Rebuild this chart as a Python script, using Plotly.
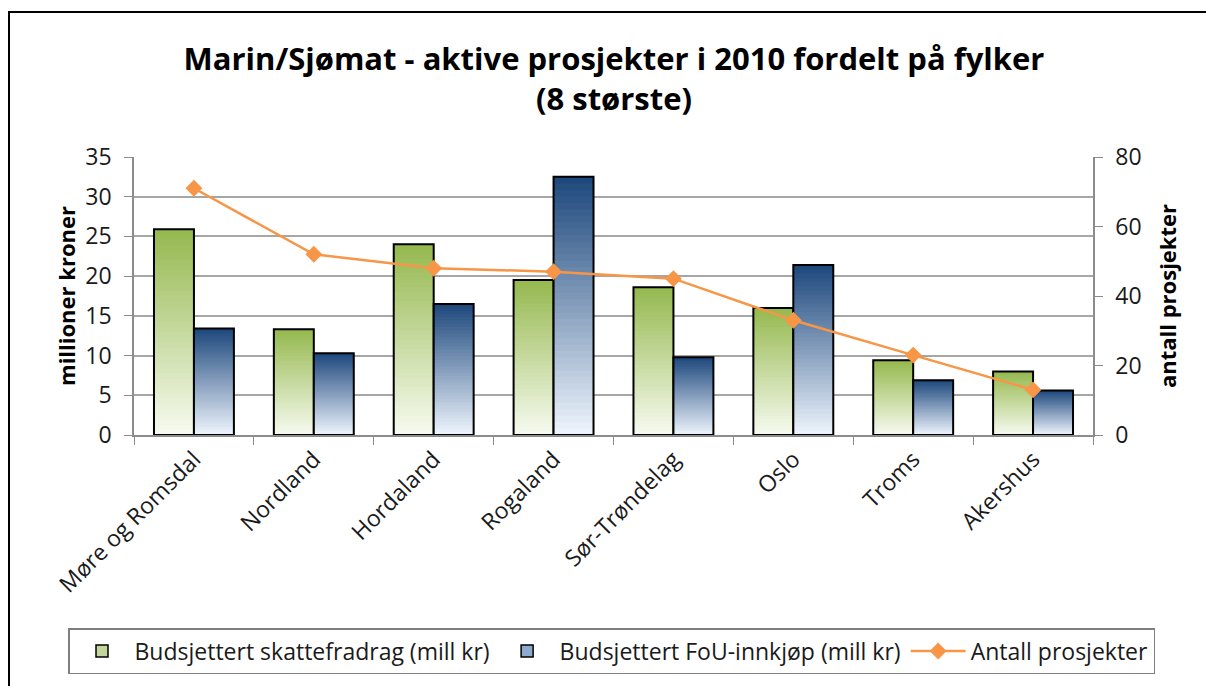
import plotly.graph_objects as go

# ---------------- data ----------------
categories = ["Møre og Romsdal", "Nordland", "Hordaland", "Rogaland",
              "Sør-Trøndelag", "Oslo", "Troms", "Akershus"]
skattefradrag = [25.9, 13.3, 24.0, 19.5, 18.6, 16.0, 9.4, 8.0]
fou_innkjop = [13.4, 10.3, 16.5, 32.5, 9.8, 21.4, 6.9, 5.6]
antall_prosjekter = [71, 52, 48, 47, 45, 33, 23, 13]
left_ticks = [0, 5, 10, 15, 20, 25, 30, 35]
right_ticks = [0, 20, 40, 60, 80]

series_names = ["Budsjettert skattefradrag (mill kr)",
                "Budsjettert FoU-innkjøp (mill kr)",
                "Antall prosjekter"]

# ---------------- style ----------------
FONT = "Open Sans"
W, H = 1206, 686
L, T = 134, 157
R = W - 1093
B = H - 435
PW, PH = W - L - R, H - T - B
N = 40  # gradient slices

green_top, green_bot = (150, 185, 80), (246, 250, 238)
blue_top, blue_bot = (31, 73, 125), (236, 243, 252)


def lerp(c0, c1, t):
    return "rgb(%d,%d,%d)" % tuple(round(a + (b - a) * t) for a, b in zip(c0, c1))


fig = go.Figure()

bar_w = 1 / 3
for vals, top, bot, off, name, legcol in [
        (skattefradrag, green_top, green_bot, -bar_w, series_names[0], "#C3D69B"),
        (fou_innkjop, blue_top, blue_bot, 0.0, series_names[1], "#8EA9CF")]:
    # gradient body: stacked slices from bottom to top
    for i in range(N):
        t = i / (N - 1)
        fig.add_trace(go.Bar(
            x=categories,
            y=[v * (N - i) / N for v in vals],
            base=[v * i / N for v in vals],
            offset=off, width=bar_w,
            marker=dict(color=lerp(bot, top, t), line=dict(width=0)),
            showlegend=False, hoverinfo="skip"))
    # outline
    fig.add_trace(go.Bar(
        x=categories, y=vals, offset=off, width=bar_w,
        marker=dict(color="rgba(0,0,0,0)", line=dict(color="black", width=2)),
        showlegend=False, name=name))
    # legend entry
    fig.add_trace(go.Bar(
        x=categories, y=[None] * len(categories), offset=off, width=bar_w,
        marker=dict(color=legcol, line=dict(color="black", width=1.5)),
        name=name, showlegend=True))

fig.add_trace(go.Scatter(
    x=categories, y=antall_prosjekter, yaxis="y2", mode="lines+markers",
    line=dict(color="#F79646", width=2.5),
    marker=dict(symbol="diamond", size=13, color="#F79646"),
    name=series_names[2]))

grid = "#a6a6a6"
axis_col = "#8c8c8c"
fig.update_layout(
    width=W, height=H,
    margin=dict(l=L, r=R, t=T, b=B, autoexpand=False),
    paper_bgcolor="white", plot_bgcolor="white",
    barmode="overlay",
    font=dict(family=FONT, color="#1a1a1a"),
    title=dict(
        text="<b>Marin/Sjømat - aktive prosjekter i 2010 fordelt på fylker<br>(8 største)</b>",
        x=614 / W, xanchor="center", xref="container",
        y=1 - 70 / H, yanchor="middle", yref="container",
        font=dict(family=FONT, size=31, color="#000")),
    xaxis=dict(
        type="category", tickangle=-45, tickfont=dict(size=23),
        showline=True, linecolor=axis_col, linewidth=1.5,
        ticks="outside", tickson="boundaries", ticklen=8, tickcolor=axis_col,
        showgrid=False, automargin=False),
    yaxis=dict(
        range=[0, 35], tickvals=left_ticks, tickfont=dict(size=23),
        showline=True, linecolor=axis_col, linewidth=1.5,
        ticks="outside", ticklen=8, tickcolor=axis_col, ticklabelstandoff=8,
        showgrid=True, gridcolor=grid, gridwidth=1.5, zeroline=False,
        automargin=False,
        title=dict(text="<b>millioner kroner</b>", font=dict(size=22, color="#000"),
                   standoff=4)),
    yaxis2=dict(
        range=[0, 80], tickvals=right_ticks, overlaying="y", side="right",
        tickfont=dict(size=23),
        showline=True, linecolor=axis_col, linewidth=1.5,
        ticks="outside", ticklen=8, tickcolor=axis_col, ticklabelstandoff=8,
        showgrid=False, zeroline=False, automargin=False,
        title=dict(text="<b>antall prosjekter</b>", font=dict(size=22, color="#000"),
                   standoff=20)),
    legend=dict(
        orientation="h", xref="paper", yref="paper",
        x=(68 - L) / PW, xanchor="left",
        y=-(628 - 435) / PH, yanchor="top",
        bordercolor="#7f7f7f", borderwidth=1.5, bgcolor="white",
        font=dict(size=23, color="#1a1a1a"), traceorder="normal",
        itemwidth=55),
    shapes=[dict(
        type="rect", xref="paper", yref="paper",
        x0=(9 - L) / PW, x1=(W + 20 - L) / PW,
        y0=-(B + 20) / PH, y1=(H - 12 - B) / PH,
        line=dict(color="black", width=2), fillcolor="rgba(0,0,0,0)", layer="below")],
    showlegend=True,
)

fig.write_html(
    "out.html",
    config={"displayModeBar": False},
    post_script="document.body.style.margin='0';document.body.style.overflow='hidden';")
